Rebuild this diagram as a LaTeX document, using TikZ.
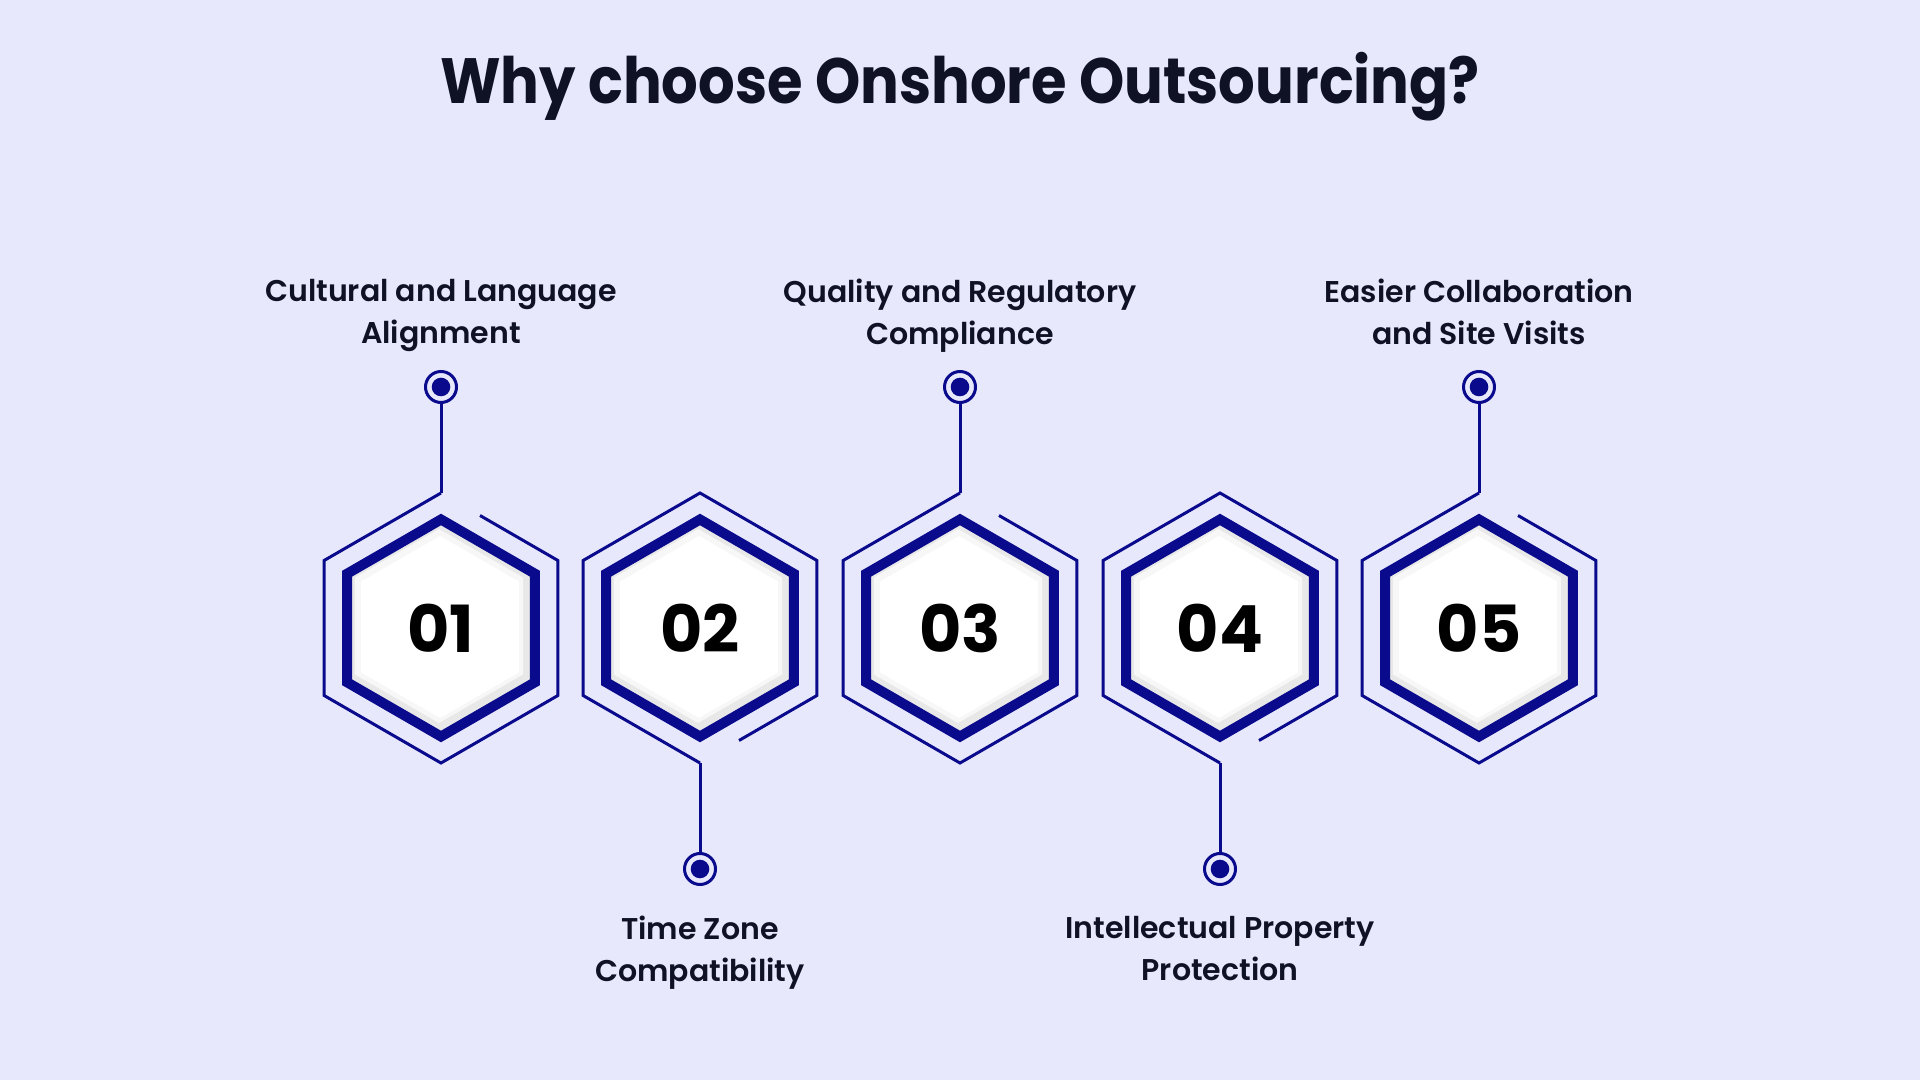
\documentclass[tikz,border=0pt]{standalone}
\usepackage{fontspec}
\setmainfont{Poppins}[BoldFont={* SemiBold}]
\newfontfamily\titlefont{Poppins}[FakeStretch=0.9]
\newfontfamily\numberfont{Poppins}
\usetikzlibrary{calc}
\definecolor{navy}{HTML}{0A0A8C}
\definecolor{lavender}{HTML}{E8E8FD}
\definecolor{ink}{HTML}{0F1124}
% closed hexagon path, pointy top, radius #1
\newcommand{\hexpath}[1]{(90:#1) -- (30:#1) -- (-30:#1) -- (-90:#1) -- (-150:#1) -- (150:#1) -- cycle}

\begin{document}
\begin{tikzpicture}[x=1pt, y=1pt,
    ring/.style={circle, draw=navy, line width=3pt, minimum size=31pt, inner sep=0pt},
    frame/.style={draw=navy, line width=3pt, line join=miter},
    caption/.style={font=\fontsize{30}{42}\selectfont\bfseries, text=ink, align=center, inner sep=0pt},
    number/.style={font=\numberfont\fontsize{65}{65}\selectfont\bfseries, text=black}]
    \fill[lavender] (0,0) rectangle (1920,1080);
    \node[font=\titlefont\fontsize{64}{64}\selectfont\bfseries, text=ink, anchor=base] (title) at (960,976) {Why choose Onshore Outsourcing?};
    \foreach \i/\x/\s/\ly/\txt in {1/441/1/801/{Cultural and Language\\Alignment},
                                  2/700/-1/164/{Time Zone\\Compatibility},
                                  3/960/1/801/{Quality and Regulatory\\Compliance},
                                  4/1220/-1/164/{Intellectual Property\\Protection},
                                  5/1479/1/801/{Easier Collaboration\\and Site Visits}}
    {
      \coordinate (c\i) at (\x,452);
      \begin{scope}[shift={(c\i)}]
        \fill[black!9] \hexpath{104};
        \fill[black!3] [shift={(-2,2)}] \hexpath{97};
        \fill[white] [shift={(-1,1)}] \hexpath{91};
        \draw[navy, line width=10pt, line join=miter] \hexpath{108.5};
      \end{scope}
      % outer frame, open on the right next to the connector
      \begin{scope}[shift={(c\i)}, yscale=\s]
        \draw[frame] (39,112.5) -- (116.9,67.5) -- (116.9,-67.5) -- (0,-135)
          -- (-116.9,-67.5) -- (-116.9,67.5) -- (0,135);
        \coordinate (t\i) at (0,135);
        \node[ring] (p\i) at (0,241) {};
      \end{scope}
      \fill[navy] (p\i) circle (9.3);
      \draw[navy, line width=3pt] (t\i) -- (p\i);
      \node[number] (n\i) at (c\i) {0\i};
      \node[caption, anchor=north] (l\i) at (\x,\ly) {\vphantom{Ql}\txt};
    }
\end{tikzpicture}
\end{document}
